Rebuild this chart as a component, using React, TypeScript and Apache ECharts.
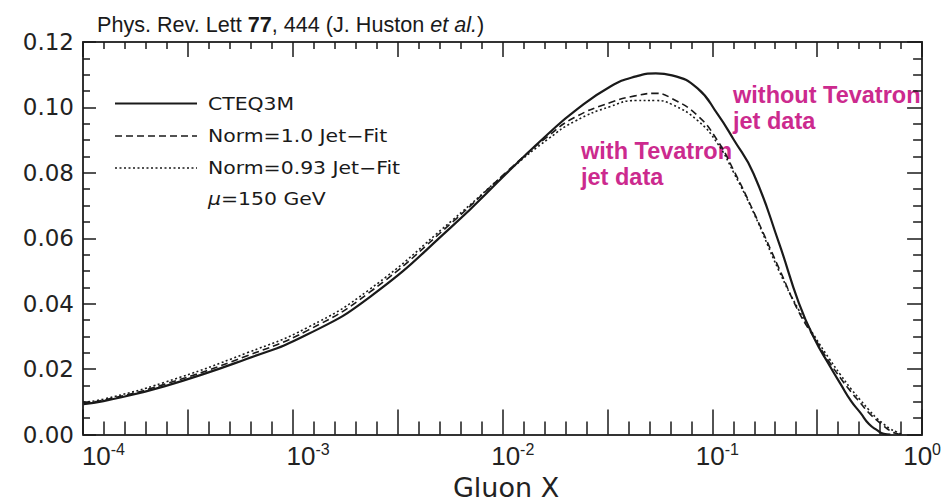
import React, { useEffect, useRef } from "react";
import * as echarts from "echarts";

// Gluon momentum fraction x (log axis) and x·g(x) values
const gluonX = [8e-5, 1e-4, 2e-4, 5e-4, 1e-3, 2e-3, 5e-3, 0.01, 0.015, 0.02, 0.03, 0.04, 0.05, 0.06, 0.08, 0.1, 0.12, 0.15, 0.2, 0.25, 0.3, 0.35, 0.4, 0.45, 0.5, 0.55, 0.6, 0.65, 0.7, 0.75, 0.8];
const cteq3m = [0.0093, 0.0102, 0.0148, 0.0231, 0.0307, 0.042, 0.0634, 0.0817, 0.0921, 0.0988, 0.1064, 0.1095, 0.1104, 0.1098, 0.1058, 0.098, 0.0902, 0.0798, 0.0585, 0.0402, 0.0289, 0.0215, 0.0154, 0.0102, 0.0066, 0.0032, 0.0014, 0.0002, 0, null, null];
const norm10 = [0.0096, 0.0105, 0.0154, 0.024, 0.0319, 0.0435, 0.0646, 0.082, 0.0914, 0.0969, 0.1015, 0.1036, 0.1043, 0.1027, 0.0975, 0.0899, 0.0808, 0.0682, 0.0508, 0.0374, 0.0292, 0.0224, 0.0172, 0.013, 0.0096, 0.0066, 0.0044, 0.0026, 0.0011, 0.0003, 0];
const norm093 = [0.0099, 0.0108, 0.016, 0.0249, 0.0328, 0.0444, 0.0652, 0.0817, 0.0905, 0.0957, 0.1003, 0.1021, 0.1021, 0.1009, 0.096, 0.089, 0.0801, 0.0679, 0.05, 0.038, 0.0298, 0.0234, 0.0182, 0.0139, 0.0105, 0.0075, 0.005, 0.0032, 0.0017, 0.0008, 0];

const decadeLabels = [-4, -3, -2, -1, 0];
const seriesNames = ["CTEQ3M", "Norm=1.0 Jet\u2212Fit", "Norm=0.93 Jet\u2212Fit"];
const scaleNote = "=150 GeV";
const titleParts = ["Phys. Rev. Lett ", "77", ", 444 (J. Huston ", "et al.", ")"];
const annotWithout = ["without Tevatron", "jet data"];
const annotWith = ["with Tevatron", "jet data"];
const xAxisTitle = "Gluon X";

const MAGENTA = "#cc2a8e";
const INK = "#1a1a1a";
const AXIS_FONT = "DejaVu Sans";

export default function App() {
  const ref = useRef<HTMLDivElement>(null);

  useEffect(() => {
    if (!ref.current) return;
    const chart = echarts.init(ref.current, undefined, { renderer: "svg" });

    const toPts = (ys: (number | null)[]) =>
      gluonX.map((x, i) => [Math.log10(x), ys[i]]);

    const xMin = -4.1;
    const xInt = 0.5125;
    const frame = { show: true, onZero: false, lineStyle: { color: "#333", width: 2 } };
    const tickStyle = { color: INK, width: 1.5 };

    const lineDefs = [
      { name: seriesNames[0], data: cteq3m, type: "solid", width: 2.2, dash: undefined },
      { name: seriesNames[1], data: norm10, type: [7, 4], width: 1.6, dash: [7, 4] },
      { name: seriesNames[2], data: norm093, type: [2, 2.5], width: 1.6, dash: [2, 2.5] },
    ];

    const legendYs = [103.5, 136, 168];
    const legendGraphics: any[] = [];
    lineDefs.forEach((d, i) => {
      legendGraphics.push({
        type: "line",
        shape: { x1: 115, y1: legendYs[i], x2: 197, y2: legendYs[i] },
        style: { stroke: INK, lineWidth: d.width, lineDash: d.dash },
      });
      legendGraphics.push({
        type: "text",
        x: 208,
        y: legendYs[i] + 0.5,
        scaleX: 1.2,
        style: { text: d.name, fontFamily: AXIS_FONT, fontSize: 17, fill: INK, verticalAlign: "middle" },
      });
    });
    legendGraphics.push({
      type: "text",
      x: 208,
      y: 199,
      scaleX: 1.2,
      style: {
        text: "{i|\u03bc}{a|" + scaleNote + "}",
        verticalAlign: "middle",
        rich: {
          i: { fontFamily: AXIS_FONT, fontSize: 17, fontStyle: "italic", fill: INK },
          a: { fontFamily: AXIS_FONT, fontSize: 17, fill: INK },
        },
      },
    });

    const annotStyle = { fontFamily: "Liberation Sans", fontWeight: "bold", fontSize: 23.5, fill: MAGENTA, verticalAlign: "middle" };

    const option: any = {
      animation: false,
      backgroundColor: "#ffffff",
      grid: { left: 83, right: 18, top: 42, bottom: 69.5, containLabel: false },
      xAxis: [
        {
          type: "value",
          position: "bottom",
          min: xMin,
          max: 0,
          interval: xInt,
          axisLine: frame,
          axisTick: { show: true, inside: true, length: 25, lineStyle: tickStyle },
          minorTick: { show: true, splitNumber: 5, length: 13, lineStyle: tickStyle },
          splitLine: { show: false },
          axisLabel: {
            customValues: decadeLabels,
            margin: 7,
            formatter: (v: number) => "{n|10}{s|" + Math.round(v) + "}",
            rich: {
              n: { fontFamily: "Liberation Sans", fontSize: 26, color: "#222", lineHeight: 28 },
              s: { fontFamily: "Liberation Sans", fontSize: 16, color: "#222", verticalAlign: "top", lineHeight: 16 },
            },
          },
        },
        {
          type: "value",
          position: "top",
          min: xMin,
          max: 0,
          interval: xInt,
          axisLine: frame,
          axisTick: { show: true, inside: true, length: 15, lineStyle: tickStyle },
          minorTick: { show: true, splitNumber: 5, length: 7, lineStyle: tickStyle },
          splitLine: { show: false },
          axisLabel: { show: false },
        },
      ],
      yAxis: [
        {
          type: "value",
          position: "left",
          min: 0,
          max: 0.12,
          interval: 0.02,
          axisLine: frame,
          axisTick: { show: true, inside: true, length: 13, lineStyle: tickStyle },
          minorTick: { show: true, splitNumber: 4, length: 7, lineStyle: tickStyle },
          splitLine: { show: false },
          axisLabel: {
            formatter: (v: number) => v.toFixed(2),
            fontFamily: AXIS_FONT,
            fontSize: 23,
            color: "#222",
            margin: 9,
            padding: [0, 0, 8, 0],
          },
        },
        {
          type: "value",
          position: "right",
          min: 0,
          max: 0.12,
          interval: 0.02,
          axisLine: frame,
          axisTick: { show: true, inside: true, length: 15, lineStyle: tickStyle },
          minorTick: { show: true, splitNumber: 4, length: 9, lineStyle: tickStyle },
          splitLine: { show: false },
          axisLabel: { show: false },
        },
      ],
      series: lineDefs.map((d) => ({
        name: d.name,
        type: "line",
        xAxisIndex: 0,
        yAxisIndex: 0,
        data: toPts(d.data),
        showSymbol: false,
        smooth: 0.5,
        lineStyle: { color: INK, width: d.width, type: d.type },
        clip: true,
      })),
      graphic: [
        {
          type: "text",
          x: 97,
          y: 24,
          style: {
            text:
              "{a|" + titleParts[0] + "}{b|" + titleParts[1] + "}{a|" + titleParts[2] + "}{i|" + titleParts[3] + "}{a|" + titleParts[4] + "}",
            verticalAlign: "middle",
            rich: {
              a: { fontFamily: "Liberation Sans", fontSize: 21.6, fill: INK },
              b: { fontFamily: "Liberation Sans", fontSize: 21.6, fontWeight: "bold", fill: INK },
              i: { fontFamily: "Liberation Sans", fontSize: 21.6, fontStyle: "italic", fill: INK },
            },
          },
        },
        ...legendGraphics,
        { type: "text", x: 733, y: 95, style: { ...annotStyle, text: annotWithout[0] } },
        { type: "text", x: 733, y: 121, style: { ...annotStyle, text: annotWithout[1] } },
        { type: "text", x: 581, y: 151, style: { ...annotStyle, text: annotWith[0] } },
        { type: "text", x: 581, y: 177, style: { ...annotStyle, text: annotWith[1] } },
        {
          type: "text",
          x: 506,
          y: 487,
          style: { text: xAxisTitle, fontFamily: AXIS_FONT, fontSize: 27, fill: "#222", align: "center", verticalAlign: "middle" },
        },
      ],
    };

    chart.setOption(option);
    return () => chart.dispose();
  }, []);

  return (
    <div
      ref={ref}
      style={{ position: "absolute", left: 0, top: 0, width: 944, height: 504, background: "#fff" }}
    />
  );
}
